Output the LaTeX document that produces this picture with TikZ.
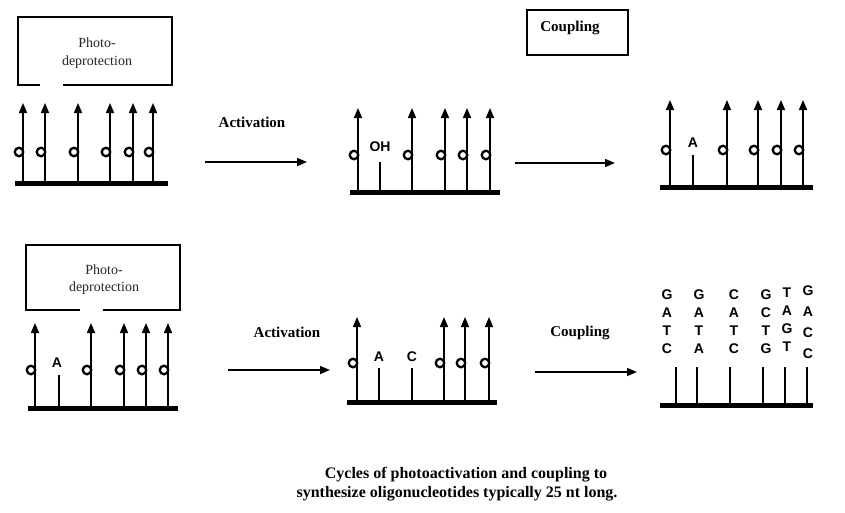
\documentclass[tikz,border=0pt]{standalone}
\usepackage{fontspec}
\setmainfont{Liberation Serif}
\newfontfamily\lettfont{Liberation Sans}
\usetikzlibrary{arrows.meta}
\begin{document}
\begin{tikzpicture}[x=1pt,y=-1pt,
  strand/.style={line width=1.6pt, -{Triangle[length=10pt,width=8pt]}},
  stub/.style={line width=1.6pt},
  capc/.style={draw, line width=2.3pt, circle, minimum size=8.5pt, inner sep=0pt},
  baseln/.style={line width=5pt},
  boxline/.style={line width=1.6pt},
  flow/.style={line width=1.7pt, -{Triangle[length=10pt,width=8pt]}},
  lab/.style={font=\bfseries\fontsize{15}{17}\selectfont, inner sep=0pt},
  boxtxt/.style={font=\fontsize{14}{16}\selectfont, inner sep=0pt, text=black!85},
  nuc/.style={font=\lettfont\bfseries\fontsize{14}{14}\selectfont, inner sep=0pt},
  capt/.style={font=\bfseries\fontsize{16}{18}\selectfont, inner sep=0pt}
  ]
\useasboundingbox (0,0) rectangle (845,512);
\fill[white] (0,0) rectangle (845,512);

% ---------- Panel 1 (top left) ----------
\draw[boxline] (40,85) -- (18,85) -- (18,17) -- (172,17) -- (172,85) -- (63,85);
\node[boxtxt] (t1a) at (97,43) {Photo-};
\node[boxtxt] (t1b) at (97,62) {deprotection};
\foreach \x [count=\i] in {23,45,78,110,133,153} {
  \coordinate (p1b\i) at (\x,183);
  \coordinate (p1t\i) at (\x,103);
  \draw[strand] (p1b\i) -- (p1t\i);
  \node[capc] (p1c\i) at (\x-4,152) {};
}
\coordinate (p1L) at (15,183); \coordinate (p1R) at (168,183);
\draw[baseln] (p1L) -- (p1R);

% activation arrow (top)
\node[lab] (act1) at (252,122) {Activation};
\coordinate (a1s) at (205,162); \coordinate (a1e) at (307,162);
\draw[flow] (a1s) -- (a1e);

% ---------- Panel 2 (top middle) ----------
\foreach \x [count=\i] in {358,412,445,467,490} {
  \coordinate (p2b\i) at (\x,192);
  \coordinate (p2t\i) at (\x,108);
  \draw[strand] (p2b\i) -- (p2t\i);
  \node[capc] (p2c\i) at (\x-4,155) {};
}
\coordinate (p2sb) at (380,192); \coordinate (p2st) at (380,162);
\draw[stub] (p2sb) -- (p2st);
\node[nuc] (oh) at (380,147) {OH};
\coordinate (p2L) at (350,192); \coordinate (p2R) at (500,192);
\draw[baseln] (p2L) -- (p2R);

% coupling box and arrow (top)
\draw[boxline] (527,10) rectangle (628,55);
\node[lab] (cp1) at (570,28) {Coupling};
\coordinate (c1s) at (515,163); \coordinate (c1e) at (615,163);
\draw[flow] (c1s) -- (c1e);

% ---------- Panel 3 (top right) ----------
\foreach \x [count=\i] in {670,727,758,781,803} {
  \coordinate (p3b\i) at (\x,187);
  \coordinate (p3t\i) at (\x,100);
  \draw[strand] (p3b\i) -- (p3t\i);
  \node[capc] (p3c\i) at (\x-4,150) {};
}
\coordinate (p3sb) at (693,187); \coordinate (p3st) at (693,155);
\draw[stub] (p3sb) -- (p3st);
\node[nuc] (a3) at (693,143) {A};
\coordinate (p3L) at (660,187); \coordinate (p3R) at (813,187);
\draw[baseln] (p3L) -- (p3R);

% ---------- Panel 4 (bottom left) ----------
\draw[boxline] (80,310) -- (26,310) -- (26,245) -- (180,245) -- (180,310) -- (103,310);
\node[boxtxt] (t4a) at (104,270) {Photo-};
\node[boxtxt] (t4b) at (104,288) {deprotection};
\foreach \x [count=\i] in {35,91,124,146,168} {
  \coordinate (p4b\i) at (\x,408);
  \coordinate (p4t\i) at (\x,323);
  \draw[strand] (p4b\i) -- (p4t\i);
  \node[capc] (p4c\i) at (\x-4,370) {};
}
\coordinate (p4sb) at (59,408); \coordinate (p4st) at (59,375);
\draw[stub] (p4sb) -- (p4st);
\node[nuc] (a4) at (57,363) {A};
\coordinate (p4L) at (28,408); \coordinate (p4R) at (178,408);
\draw[baseln] (p4L) -- (p4R);

% activation arrow (bottom)
\node[lab] (act2) at (287,332) {Activation};
\coordinate (a2s) at (228,370); \coordinate (a2e) at (330,370);
\draw[flow] (a2s) -- (a2e);

% ---------- Panel 5 (bottom middle) ----------
\foreach \x [count=\i] in {357,444,465,489} {
  \coordinate (p5b\i) at (\x,402);
  \coordinate (p5t\i) at (\x,317);
  \draw[strand] (p5b\i) -- (p5t\i);
  \node[capc] (p5c\i) at (\x-4,363) {};
}
\coordinate (p5sb1) at (379,402); \coordinate (p5st1) at (379,368);
\draw[stub] (p5sb1) -- (p5st1);
\node[nuc] (a5) at (379,357) {A};
\coordinate (p5sb2) at (412,402); \coordinate (p5st2) at (412,368);
\draw[stub] (p5sb2) -- (p5st2);
\node[nuc] (c5) at (412,357) {C};
\coordinate (p5L) at (347,402); \coordinate (p5R) at (497,402);
\draw[baseln] (p5L) -- (p5R);

% coupling arrow (bottom)
\node[lab] (cp2) at (580,333) {Coupling};
\coordinate (c2s) at (535,372); \coordinate (c2e) at (637,372);
\draw[flow] (c2s) -- (c2e);

% ---------- Panel 6 (bottom right) ----------
\foreach \x [count=\i] in {676,697,730,763,785,807} {
  \coordinate (p6b\i) at (\x,405);
  \coordinate (p6t\i) at (\x,367);
  \draw[stub] (p6b\i) -- (p6t\i);
}
\foreach \lx/\l/\ly [count=\i] in {
  667/G/295, 667/A/313, 667/T/331, 667/C/349,
  699/G/295, 699/A/313, 699/T/331, 699/A/349,
  734/C/295, 734/A/313, 734/T/331, 734/C/349,
  766/G/295, 766/C/313, 766/T/331, 766/G/349,
  787/T/293, 787/A/311, 787/G/329, 787/T/347,
  808/G/291, 808/A/312, 808/C/333, 808/C/354} {
  \node[nuc] (n6\i) at (\lx,\ly) {\l};
}
\coordinate (p6L) at (660,405); \coordinate (p6R) at (813,405);
\draw[baseln] (p6L) -- (p6R);

% ---------- Caption ----------
\node[capt] (cap1) at (466,475) {Cycles of photoactivation and coupling to};
\node[capt] (cap2) at (457,494) {synthesize oligonucleotides typically 25 nt long.};
\end{tikzpicture}
\end{document}
